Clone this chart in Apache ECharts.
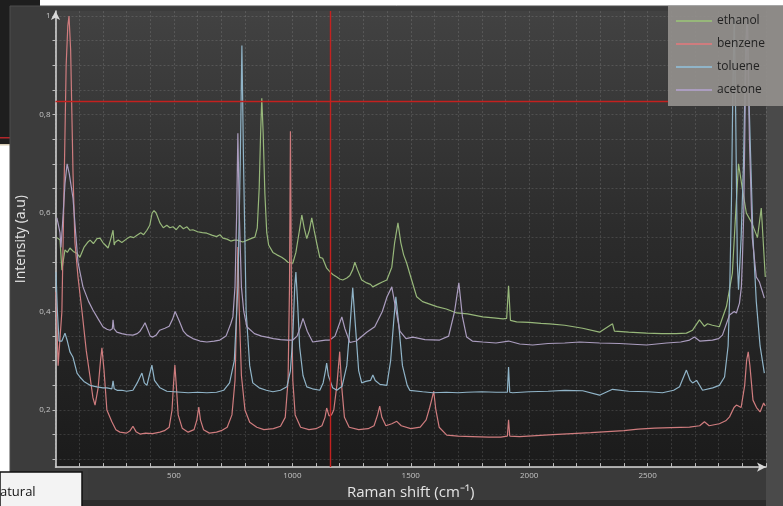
<!DOCTYPE html>
<html>
<head>
<meta charset="utf-8">
<title>Raman spectra</title>
<script src="https://cdn.jsdelivr.net/npm/echarts@6/dist/echarts.min.js"></script>
<style>
  html, body { margin: 0; padding: 0; background: #fff; }
  #chart { width: 783px; height: 506px; }
</style>
</head>
<body>
<div id="chart"></div>
<script>
// spectra, [raman shift cm-1, intensity]
var ethanol = [
  [6, 0.55], [19, 0.545], [27, 0.484], [35, 0.51], [40, 0.525], [50, 0.52], [61, 0.529], [75, 0.522], [91, 0.518], [103, 0.51],
  [120, 0.53], [135, 0.54], [146, 0.545], [160, 0.538], [175, 0.548], [188, 0.549], [200, 0.54], [210, 0.535], [222, 0.529], [232, 0.545],
  [243, 0.565], [248, 0.535], [251, 0.54], [265, 0.545], [280, 0.54], [302, 0.548], [315, 0.552], [330, 0.55], [344, 0.555], [360, 0.56],
  [372, 0.556], [386, 0.565], [398, 0.575], [408, 0.6], [416, 0.605], [425, 0.6], [441, 0.58], [455, 0.57], [470, 0.575], [483, 0.57],
  [496, 0.572], [510, 0.566], [525, 0.575], [540, 0.568], [555, 0.572], [567, 0.565], [580, 0.566], [600, 0.562], [620, 0.56], [639, 0.559],
  [660, 0.555], [680, 0.552], [694, 0.556], [707, 0.549], [724, 0.547], [740, 0.543], [755, 0.545], [766, 0.545], [780, 0.543], [791, 0.541],
  [810, 0.545], [830, 0.549], [842, 0.551], [852, 0.57], [860, 0.65], [866, 0.76], [871, 0.833], [877, 0.76], [884, 0.64], [892, 0.56],
  [900, 0.535], [918, 0.52], [935, 0.515], [955, 0.51], [970, 0.505], [981, 0.5], [1002, 0.498], [1015, 0.52], [1030, 0.565], [1040, 0.596],
  [1050, 0.57], [1061, 0.548], [1072, 0.565], [1082, 0.59], [1092, 0.565], [1103, 0.539], [1116, 0.51], [1128, 0.508], [1145, 0.488], [1160, 0.48],
  [1171, 0.475], [1188, 0.47], [1200, 0.466], [1213, 0.464], [1230, 0.468], [1243, 0.473], [1255, 0.485], [1264, 0.5], [1275, 0.485], [1293, 0.464],
  [1314, 0.458], [1330, 0.455], [1340, 0.45], [1360, 0.455], [1380, 0.46], [1399, 0.464], [1420, 0.49], [1432, 0.54], [1446, 0.58], [1458, 0.54],
  [1470, 0.515], [1483, 0.498], [1500, 0.47], [1525, 0.43], [1550, 0.42], [1580, 0.415], [1610, 0.41], [1650, 0.405], [1694, 0.397], [1740, 0.395],
  [1804, 0.389], [1850, 0.387], [1890, 0.385], [1905, 0.386], [1913, 0.452], [1921, 0.382], [1947, 0.379], [2000, 0.378], [2050, 0.376], [2086, 0.375],
  [2150, 0.372], [2226, 0.366], [2297, 0.358], [2352, 0.375], [2360, 0.36], [2420, 0.358], [2496, 0.356], [2560, 0.355], [2620, 0.355], [2664, 0.356],
  [2690, 0.362], [2719, 0.383], [2740, 0.37], [2753, 0.375], [2774, 0.372], [2803, 0.369], [2833, 0.41], [2858, 0.478], [2872, 0.6], [2884, 0.7],
  [2900, 0.65], [2917, 0.6], [2940, 0.58], [2964, 0.55], [2980, 0.61], [2997, 0.47]
];
var benzene = [
  [2, 0.44], [11, 0.29], [19, 0.287], [27, 0.4], [35, 0.62], [45, 0.9], [52, 0.98], [57, 1.0], [64, 0.93], [74, 0.68],
  [82, 0.54], [95, 0.47], [112, 0.4], [130, 0.32], [146, 0.267], [158, 0.225], [167, 0.21], [180, 0.245], [190, 0.3], [196, 0.326],
  [205, 0.28], [217, 0.2], [238, 0.176], [255, 0.16], [272, 0.155], [300, 0.153], [315, 0.158], [327, 0.167], [340, 0.156], [357, 0.151],
  [380, 0.153], [410, 0.152], [441, 0.155], [460, 0.158], [480, 0.165], [492, 0.2], [498, 0.25], [504, 0.291], [510, 0.25], [518, 0.19],
  [535, 0.163], [560, 0.155], [585, 0.16], [597, 0.18], [605, 0.206], [612, 0.18], [625, 0.16], [650, 0.153], [680, 0.155], [700, 0.158],
  [725, 0.165], [745, 0.19], [758, 0.26], [764, 0.38], [770, 0.531], [776, 0.4], [785, 0.27], [800, 0.2], [820, 0.175], [850, 0.165],
  [880, 0.16], [920, 0.162], [950, 0.167], [970, 0.185], [982, 0.26], [988, 0.45], [992, 0.766], [996, 0.45], [1002, 0.26], [1012, 0.19],
  [1035, 0.165], [1070, 0.16], [1100, 0.162], [1125, 0.168], [1138, 0.185], [1145, 0.204], [1155, 0.188], [1165, 0.19], [1175, 0.2], [1188, 0.25],
  [1200, 0.318], [1208, 0.25], [1220, 0.185], [1240, 0.165], [1280, 0.16], [1320, 0.162], [1345, 0.168], [1360, 0.19], [1369, 0.208], [1378, 0.185],
  [1395, 0.168], [1420, 0.172], [1441, 0.177], [1460, 0.168], [1500, 0.162], [1540, 0.165], [1565, 0.18], [1580, 0.205], [1588, 0.22], [1597, 0.238],
  [1606, 0.2], [1620, 0.165], [1652, 0.149], [1700, 0.147], [1760, 0.146], [1830, 0.145], [1880, 0.145], [1908, 0.147], [1913, 0.18], [1918, 0.147],
  [1960, 0.146], [2030, 0.148], [2100, 0.15], [2180, 0.152], [2260, 0.154], [2330, 0.156], [2400, 0.158], [2460, 0.161], [2530, 0.163], [2600, 0.164],
  [2677, 0.165], [2720, 0.168], [2740, 0.176], [2760, 0.168], [2803, 0.172], [2830, 0.178], [2846, 0.186], [2865, 0.205], [2875, 0.21], [2895, 0.205],
  [2910, 0.25], [2918, 0.3], [2925, 0.318], [2932, 0.29], [2945, 0.22], [2960, 0.205], [2975, 0.196], [2990, 0.214], [2997, 0.208]
];
var toluene = [
  [2, 0.48], [8, 0.4], [15, 0.34], [27, 0.34], [40, 0.356], [50, 0.34], [61, 0.318], [74, 0.307], [91, 0.275], [103, 0.267],
  [120, 0.258], [146, 0.25], [175, 0.247], [200, 0.245], [217, 0.245], [238, 0.243], [243, 0.259], [248, 0.243], [260, 0.24], [280, 0.24],
  [300, 0.238], [327, 0.24], [345, 0.255], [365, 0.275], [375, 0.255], [386, 0.25], [396, 0.27], [407, 0.291], [418, 0.26], [441, 0.245],
  [470, 0.238], [500, 0.237], [530, 0.236], [560, 0.235], [600, 0.236], [639, 0.235], [680, 0.236], [710, 0.24], [735, 0.255], [755, 0.3],
  [770, 0.45], [780, 0.7], [787, 0.94], [794, 0.7], [805, 0.4], [820, 0.29], [833, 0.255], [860, 0.245], [890, 0.24], [918, 0.237],
  [950, 0.24], [977, 0.247], [992, 0.28], [1002, 0.35], [1010, 0.45], [1015, 0.48], [1022, 0.42], [1031, 0.328], [1045, 0.27], [1061, 0.247],
  [1085, 0.243], [1116, 0.24], [1130, 0.255], [1140, 0.28], [1145, 0.295], [1152, 0.27], [1170, 0.245], [1188, 0.24], [1210, 0.248], [1230, 0.29],
  [1245, 0.38], [1255, 0.448], [1265, 0.38], [1280, 0.28], [1293, 0.255], [1310, 0.258], [1330, 0.26], [1340, 0.271], [1350, 0.26], [1370, 0.252],
  [1399, 0.25], [1415, 0.3], [1428, 0.38], [1437, 0.43], [1448, 0.38], [1465, 0.29], [1485, 0.25], [1496, 0.24], [1550, 0.237], [1593, 0.235],
  [1650, 0.236], [1700, 0.235], [1736, 0.236], [1800, 0.237], [1860, 0.236], [1908, 0.236], [1913, 0.287], [1918, 0.236], [1930, 0.235], [2000, 0.237],
  [2080, 0.238], [2150, 0.24], [2226, 0.239], [2297, 0.23], [2352, 0.242], [2420, 0.238], [2500, 0.237], [2563, 0.235], [2610, 0.24], [2635, 0.247],
  [2664, 0.281], [2680, 0.26], [2690, 0.255], [2707, 0.26], [2732, 0.24], [2775, 0.245], [2803, 0.25], [2825, 0.267], [2840, 0.33], [2846, 0.423],
  [2854, 0.62], [2860, 0.85], [2866, 1.0], [2872, 0.8], [2879, 0.5], [2884, 0.444], [2895, 0.55], [2905, 0.7], [2915, 0.95], [2921, 1.0],
  [2930, 0.8], [2945, 0.55], [2959, 0.42], [2975, 0.33], [2993, 0.275]
];
var acetone = [
  [6, 0.59], [19, 0.56], [23, 0.53], [30, 0.58], [40, 0.66], [49, 0.7], [58, 0.68], [74, 0.63], [85, 0.56], [95, 0.5],
  [116, 0.45], [140, 0.42], [158, 0.403], [180, 0.385], [200, 0.369], [217, 0.364], [230, 0.362], [240, 0.365], [243, 0.383], [247, 0.365],
  [259, 0.358], [280, 0.355], [300, 0.353], [327, 0.352], [345, 0.355], [357, 0.36], [370, 0.37], [378, 0.377], [388, 0.365], [400, 0.35],
  [411, 0.348], [425, 0.352], [440, 0.362], [462, 0.366], [480, 0.37], [495, 0.385], [505, 0.4], [513, 0.403], [523, 0.38], [540, 0.36],
  [555, 0.352], [580, 0.345], [610, 0.34], [639, 0.338], [670, 0.34], [694, 0.342], [720, 0.35], [740, 0.375], [749, 0.389], [758, 0.45],
  [765, 0.6], [770, 0.762], [776, 0.6], [785, 0.45], [795, 0.4], [808, 0.369], [840, 0.355], [870, 0.35], [892, 0.348], [920, 0.345],
  [950, 0.343], [980, 0.342], [1002, 0.342], [1020, 0.35], [1035, 0.37], [1045, 0.386], [1053, 0.386], [1063, 0.36], [1086, 0.338], [1110, 0.34],
  [1140, 0.342], [1158, 0.342], [1180, 0.35], [1195, 0.37], [1209, 0.389], [1222, 0.365], [1243, 0.337], [1270, 0.34], [1314, 0.358], [1348, 0.369],
  [1380, 0.4], [1400, 0.43], [1420, 0.45], [1435, 0.41], [1454, 0.36], [1480, 0.345], [1509, 0.348], [1560, 0.343], [1622, 0.342], [1660, 0.35],
  [1685, 0.4], [1703, 0.458], [1718, 0.39], [1736, 0.348], [1760, 0.34], [1804, 0.338], [1860, 0.336], [1913, 0.34], [1960, 0.334], [2015, 0.332],
  [2080, 0.335], [2150, 0.336], [2213, 0.338], [2297, 0.336], [2380, 0.335], [2496, 0.332], [2580, 0.336], [2640, 0.338], [2677, 0.342], [2698, 0.348],
  [2720, 0.34], [2774, 0.342], [2800, 0.345], [2816, 0.352], [2846, 0.393], [2866, 0.4], [2875, 0.397], [2888, 0.417], [2896, 0.45], [2900, 0.5],
  [2906, 0.6], [2913, 0.85], [2921, 1.0], [2930, 0.75], [2942, 0.55], [2959, 0.47], [2972, 0.46], [2985, 0.44], [2993, 0.427]
];

var seriesNames = ['ethanol', 'benzene', 'toluene', 'acetone'];
var seriesColors = ['#97b77a', '#cf7c7e', '#90b4c8', '#ab9dbf'];
var yLabels = [0.2, 0.4, 0.6, 0.8, 1];
var yTicks = [0.1, 0.15, 0.2, 0.25, 0.3, 0.35, 0.4, 0.45, 0.5, 0.55, 0.6, 0.65, 0.7, 0.75, 0.8, 0.85, 0.9, 0.95, 1];
var cursorX = 1158;   // red crosshair
var cursorY = 0.8264;
var cursorEnd = 2586; // horizontal part stops at the legend box

var chart = echarts.init(document.getElementById('chart'));

var lineIcon = 'path://M0,0 L36,0 L36,2 L0,2 Z';

function spectrum(name, data, i) {
  return {
    name: name,
    type: 'line',
    data: data,
    showSymbol: false,
    symbol: 'none',
    smooth: false,
    animation: false,
    lineStyle: { width: 1.2, color: seriesColors[i] },
    itemStyle: { color: seriesColors[i] }
  };
}

var series = [
  spectrum('ethanol', ethanol, 0),
  spectrum('benzene', benzene, 1),
  spectrum('toluene', toluene, 2),
  spectrum('acetone', acetone, 3)
];
// crosshair
var redLine = { color: '#c4211f', width: 1.4, type: 'solid', opacity: 1 };
series[0].markLine = {
  silent: true,
  symbol: ['none', 'none'],
  label: { show: false },
  lineStyle: redLine,
  emphasis: { disabled: true },
  data: [
    { xAxis: cursorX, lineStyle: redLine },
    [{ coord: [0, cursorY], lineStyle: redLine }, { coord: [cursorEnd, cursorY] }]
  ]
};

chart.setOption({
  backgroundColor: '#ffffff',
  animation: false,
  textStyle: { fontFamily: 'Open Sans' },
  graphic: [
    // window behind, top left
    { type: 'rect', z: -10, shape: { x: 0, y: 0, width: 40, height: 145 }, style: { fill: '#1e1e1e' } },
    { type: 'rect', z: -10, shape: { x: 0, y: 137, width: 10, height: 1.5 }, style: { fill: '#b3262a' } },
    { type: 'rect', z: -10, shape: { x: 0, y: 144, width: 10, height: 1.5 }, style: { fill: '#d8ccb4' } },
    // main panel
    { type: 'rect', z: -10, shape: { x: 10, y: 6, width: 773, height: 500 }, style: { fill: '#3c3c3c', stroke: '#4c4c4c', lineWidth: 1 } },
    { type: 'rect', z: -9, shape: { x: 88, y: 469, width: 678, height: 31 }, style: { fill: '#3a3a3a' } },
    { type: 'rect', z: -9, shape: { x: 10, y: 500, width: 773, height: 6 }, style: { fill: '#2c2c2c' } },
    { type: 'rect', z: -9, shape: { x: 766, y: 6, width: 17, height: 500 }, style: { fill: '#4a4a4a' } },
    // note box bottom left
    { type: 'rect', zlevel: 1, z: 8, shape: { x: 0, y: 472, width: 82, height: 40 }, style: { fill: '#f3f3f3', stroke: '#111', lineWidth: 1.5 } },
    { type: 'text', zlevel: 1, z: 9, x: 0, y: 492, style: { text: 'atural', fill: '#111', font: '13px "Open Sans"', textVerticalAlign: 'middle' } }
  ],
  legend: {
    zlevel: 1,
    z: 10,
    orient: 'vertical',
    left: 668,
    top: 6,
    padding: [9, 40, 10, 8],
    backgroundColor: 'rgba(146,143,140,0.93)',
    borderRadius: 0,
    itemWidth: 36,
    itemHeight: 12,
    itemGap: 11,
    icon: lineIcon,
    textStyle: { color: '#222', fontSize: 12, fontFamily: 'Open Sans' },
    data: seriesNames
  },
  grid: {
    left: 55.5,
    right: 17,
    top: 11.1,
    bottom: 38.9,
    show: true,
    borderWidth: 0,
    backgroundColor: new echarts.graphic.LinearGradient(0, 0, 0, 1, [
      { offset: 0, color: '#424242' },
      { offset: 0.5, color: '#2b2b2b' },
      { offset: 1, color: '#1b1b1b' }
    ])
  },
  xAxis: {
    type: 'value',
    min: 0,
    max: 3000,
    interval: 100,
    name: 'Raman shift (cm\u207B\u00B9)',
    nameLocation: 'middle',
    nameGap: 12,
    nameTextStyle: { color: '#e4e4e4', fontSize: 15, fontFamily: 'Open Sans', verticalAlign: 'top' },
    axisLine: { lineStyle: { color: '#d8d8d8', width: 1.5 }, symbol: ['none', 'arrow'], symbolSize: [7, 9] },
    axisTick: { inside: true, length: 4, lineStyle: { color: '#bbbbbb' } },
    axisLabel: {
      color: '#c4c4c4',
      fontSize: 8,
      margin: 5,
      formatter: function (v) {
        return (v % 500 === 0 && v > 0 && v < 3000) ? String(v) : '';
      }
    },
    splitLine: { show: true, lineStyle: { color: 'rgba(255,255,255,0.13)', type: [2, 2], width: 1 } }
  },
  yAxis: {
    type: 'value',
    min: 0.084,
    max: 1.01,
    name: 'Intensity (a.u)',
    nameLocation: 'middle',
    nameGap: 17,
    nameRotate: 90,
    nameTextStyle: { color: '#e4e4e4', fontSize: 14, fontFamily: 'Open Sans' },
    axisLine: { show: true, lineStyle: { color: '#d8d8d8', width: 1.5 }, symbol: ['none', 'arrow'], symbolSize: [7, 9] },
    axisTick: { show: true, length: 3, customValues: yTicks, lineStyle: { color: '#bbbbbb' } },
    axisLabel: {
      color: '#c4c4c4',
      fontSize: 8,
      margin: 5,
      customValues: yLabels,
      formatter: function (v) { return String(v).replace('.', ','); }
    },
    splitLine: { show: true, lineStyle: { color: 'rgba(255,255,255,0.13)', type: [2, 2], width: 1 } }
  },
  series: series
});
</script>
</body>
</html>
